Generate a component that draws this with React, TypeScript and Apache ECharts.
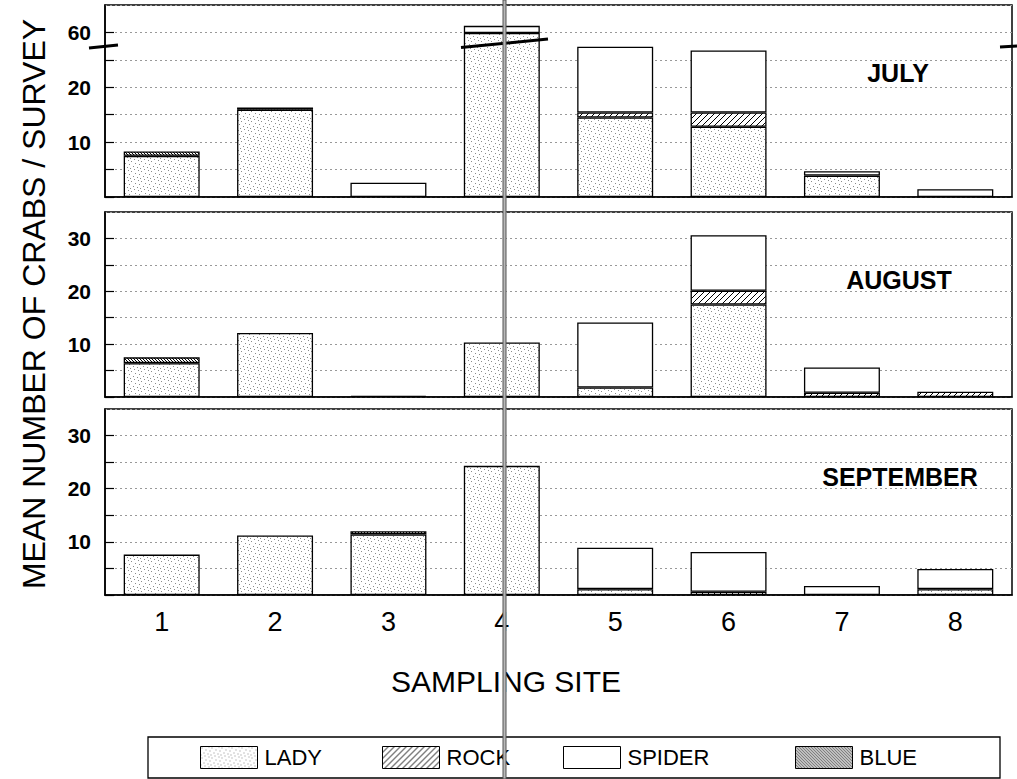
import React, { useEffect, useRef } from 'react';
import * as echarts from 'echarts';

// ---- data ----
const sites = ['1', '2', '3', '4', '5', '6', '7', '8'];
const speciesNames = ['LADY', 'ROCK', 'SPIDER', 'BLUE'];
const panelTitles = ['JULY', 'AUGUST', 'SEPTEMBER'];

const julyLady = [7.5, 15.9, 0, 59.9, 14.5, 12.8, 3.9, 0];
const julyRock = [0, 0, 0, 0, 0.9, 2.6, 0, 0];
const julySpider = [0, 0, 2.6, 1.3, 12.0, 11.3, 0.8, 1.4];
const julyBlue = [0.8, 0.4, 0, 0, 0, 0, 0, 0];

const augLady = [6.4, 12.1, 0, 10.3, 1.8, 17.5, 0, 0];
const augRock = [0, 0, 0, 0, 0, 2.6, 0.8, 1.0];
const augSpider = [0, 0, 0.2, 0, 12.3, 10.5, 4.8, 0];
const augBlue = [1.1, 0, 0, 0, 0, 0, 0, 0];

const sepLady = [7.6, 11.2, 11.4, 24.3, 1.1, 0, 0, 1.1];
const sepRock = [0, 0, 0, 0, 0, 0.6, 0, 0];
const sepSpider = [0, 0, 0, 0, 7.8, 7.5, 1.7, 3.8];
const sepBlue = [0, 0, 0.6, 0, 0, 0, 0, 0];

// July axis is broken: values above the break are shifted down
const julyTickLabels: Record<number, string> = { 10: '10', 20: '20', 30: '60' };
const otherTickLabels: Record<number, string> = { 10: '10', 20: '20', 30: '30' };
const BREAK_LOW = 27.5;
const BREAK_SHIFT = 30;

const FONT = 'Liberation Sans';

function makeCanvas(w: number, h: number, draw: (c: CanvasRenderingContext2D) => void) {
  const cv = document.createElement('canvas');
  cv.width = w;
  cv.height = h;
  const ctx = cv.getContext('2d')!;
  ctx.fillStyle = '#fff';
  ctx.fillRect(0, 0, w, h);
  draw(ctx);
  return cv;
}

function stackDisplay(
  layers: number[][],
  transform: (v: number) => number
): number[][] {
  const out = layers.map(() => [] as number[]);
  for (let i = 0; i < sites.length; i++) {
    let cum = 0;
    let prev = 0;
    layers.forEach((layer, s) => {
      cum += layer[i];
      const disp = transform(cum);
      out[s].push(layer[i] > 0 ? disp - prev : 0);
      prev = disp;
    });
  }
  return out;
}

export default function App() {
  const ref = useRef<HTMLDivElement>(null);

  useEffect(() => {
    const chart = echarts.init(ref.current!, null, { renderer: 'svg' });

    const ladyPat = makeCanvas(10, 10, (c) => {
      c.fillStyle = '#8a8a8a';
      const pts = [[1, 1], [5, 3], [8, 0], [3, 6], [7, 7], [0, 8], [9, 4], [4, 9]];
      pts.forEach(([x, y]) => c.fillRect(x, y, 1, 1));
    });
    const rockPat = makeCanvas(6, 6, (c) => {
      c.strokeStyle = '#000';
      c.lineWidth = 1;
      c.beginPath();
      c.moveTo(-1, 7); c.lineTo(7, -1);
      c.moveTo(-1, 1); c.lineTo(1, -1);
      c.moveTo(5, 7); c.lineTo(7, 5);
      c.stroke();
    });
    const bluePat = makeCanvas(3, 3, (c) => {
      c.strokeStyle = '#000';
      c.lineWidth = 1;
      c.beginPath();
      c.moveTo(-1, -1); c.lineTo(4, 4);
      c.moveTo(2, -1); c.lineTo(4, 1);
      c.moveTo(-1, 2); c.lineTo(1, 4);
      c.stroke();
    });
    const colors: any[] = [
      { image: ladyPat, repeat: 'repeat' },
      { image: rockPat, repeat: 'repeat' },
      '#ffffff',
      { image: bluePat, repeat: 'repeat' },
    ];

    const panels = [
      { layers: [julyLady, julyRock, julySpider, julyBlue], tf: (v: number) => (v <= BREAK_LOW ? v : v - BREAK_SHIFT), labels: julyTickLabels },
      { layers: [augLady, augRock, augSpider, augBlue], tf: (v: number) => v, labels: otherTickLabels },
      { layers: [sepLady, sepRock, sepSpider, sepBlue], tf: (v: number) => v, labels: otherTickLabels },
    ];

    const grids = [
      { left: 105, width: 907, top: 5, height: 192 },
      { left: 105, width: 907, top: 212, height: 185 },
      { left: 105, width: 907, top: 409, height: 186 },
    ].map((g) => ({ ...g, show: true, borderColor: '#000', borderWidth: 1.5, backgroundColor: '#fff' }));

    const xAxes = grids.map((_, i) => ({
      type: 'category',
      gridIndex: i,
      data: sites,
      boundaryGap: true,
      axisLine: { show: true, lineStyle: { color: '#000', width: 1.5 } },
      axisTick: { show: false },
      axisLabel: {
        show: i === 2,
        fontSize: 27,
        color: '#000',
        fontFamily: FONT,
        margin: 13,
      },
    }));

    const yAxes = panels.map((p, i) => ({
      type: 'value',
      gridIndex: i,
      min: 0,
      max: 35,
      interval: 5,
      axisLine: { show: true, lineStyle: { color: '#000', width: 1.5 } },
      axisTick: { show: true, inside: true, length: 9, lineStyle: { color: '#000', width: 1.2 } },
      splitLine: { show: true, lineStyle: { color: '#999', type: [2, 3], width: 1 } },
      axisLabel: {
        color: '#000',
        fontSize: 21,
        fontWeight: 'bold',
        fontFamily: FONT,
        margin: 14,
        showMaxLabel: false,
        formatter: (v: number) => p.labels[v] || '',
      },
    }));

    const series: any[] = [];
    panels.forEach((p, pi) => {
      const disp = stackDisplay(p.layers, p.tf);
      disp.forEach((vals, s) => {
        series.push({
          type: 'bar',
          name: speciesNames[s],
          xAxisIndex: pi,
          yAxisIndex: pi,
          stack: 'panel' + pi,
          barWidth: '67%',
          data: vals.map((v) => (v > 0 ? v : '-')),
          itemStyle: { color: colors[s], borderColor: '#000', borderWidth: 1.3 },
          emphasis: { disabled: true },
        });
      });
    });

    const titlePos = [
      [898, 73],
      [899, 280],
      [900, 477],
    ];

    const legendLeft = [200, 382, 563, 795];
    const legends = speciesNames.map((n, i) => ({
      data: [n],
      left: legendLeft[i],
      top: 746,
      padding: 0,
      itemWidth: 57,
      itemHeight: 22,
      itemGap: 0,
      icon: 'rect',
      selectedMode: false,
      itemStyle: { borderColor: '#000', borderWidth: 1 },
      textStyle: { fontSize: 22, color: '#000', fontFamily: FONT, padding: [0, 0, 0, 2] },
    }));

    const graphic: any[] = [
      ...panelTitles.map((t, i) => ({
        type: 'text',
        x: titlePos[i][0],
        y: titlePos[i][1],
        z: 50,
        style: {
          text: t,
          fontSize: 25,
          fontWeight: 'bold',
          fontFamily: FONT,
          fill: '#000',
          align: 'center',
          verticalAlign: 'middle',
        },
      })),
      {
        type: 'text',
        x: 34,
        y: 304,
        rotation: Math.PI / 2,
        z: 50,
        style: {
          text: 'MEAN NUMBER OF CRABS / SURVEY',
          fontSize: 32,
          fontFamily: FONT,
          fill: '#000',
          align: 'center',
          verticalAlign: 'middle',
        },
      },
      {
        type: 'text',
        x: 506,
        y: 681,
        z: 50,
        style: {
          text: 'SAMPLING SITE',
          fontSize: 30,
          fontFamily: FONT,
          fill: '#000',
          align: 'center',
          verticalAlign: 'middle',
        },
      },
      // legend frame
      {
        type: 'rect',
        z: 40,
        shape: { x: 148, y: 737, width: 852, height: 41 },
        style: { fill: 'none', stroke: '#000', lineWidth: 1.3 },
      },
      // axis-break marks (July panel)
      { type: 'line', z: 60, shape: { x1: 89, y1: 48, x2: 118, y2: 45 }, style: { stroke: '#000', lineWidth: 3 } },
      { type: 'line', z: 60, shape: { x1: 461, y1: 47.5, x2: 548, y2: 39 }, style: { stroke: '#000', lineWidth: 3 } },
      { type: 'line', z: 60, shape: { x1: 1000, y1: 47, x2: 1017, y2: 46 }, style: { stroke: '#000', lineWidth: 3 } },
      // scanner line artefact
      {
        type: 'rect',
        z: 100,
        shape: { x: 503, y: 0, width: 3, height: 779 },
        style: { fill: '#b8b8b8', stroke: '#555', lineWidth: 1 },
      },
    ];

    chart.setOption({
      animation: false,
      backgroundColor: '#fff',
      grid: grids,
      xAxis: xAxes,
      yAxis: yAxes,
      series,
      legend: legends,
      graphic,
    });

    return () => chart.dispose();
  }, []);

  return (
    <div
      ref={ref}
      style={{ position: 'fixed', left: 0, top: 0, width: 1017, height: 779, background: '#fff' }}
    />
  );
}
